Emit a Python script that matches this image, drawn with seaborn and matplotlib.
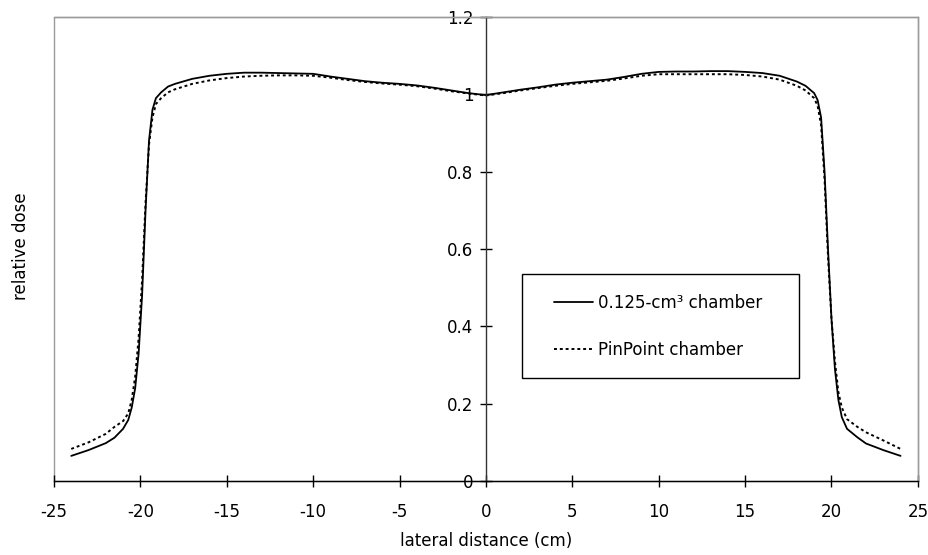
import numpy as np
import pandas as pd
import seaborn as sns
import matplotlib
matplotlib.use("Agg")
import matplotlib.pyplot as plt
from matplotlib.patches import Rectangle

sns.set_theme(style="white")
plt.rcParams['font.family'] = ['DejaVu Sans']
plt.rcParams['text.color'] = 'black'
plt.rcParams['axes.labelcolor'] = 'black'

# lateral distance (cm)
x_cm = [-24, -23, -22, -21.5, -21, -20.7, -20.5, -20.3, -20.1, -19.9, -19.7, -19.5, -19.3, -19.1, -18.8, -18.4, -18,
        -17, -16, -15, -14, -13, -12, -11, -10, -9, -8, -7, -6, -5, -4, -3, -2, -1,
        0,
        1, 2, 3, 4, 5, 6, 7, 8, 9, 10, 11, 12, 13, 14, 15, 16, 17, 18,
        18.5, 19, 19.2, 19.4, 19.6, 19.8, 20.0, 20.2, 20.4, 20.6, 20.9, 21.5, 22, 23, 24]

# 0.125-cm3 chamber
dose_chamber = [0.065, 0.080, 0.098, 0.112, 0.135, 0.158, 0.19, 0.24, 0.33, 0.48, 0.70, 0.88, 0.96, 0.99, 1.005, 1.020, 1.027,
                1.040, 1.048, 1.053, 1.056, 1.056, 1.055, 1.054, 1.053, 1.046, 1.040, 1.034, 1.030, 1.027, 1.023, 1.017, 1.010, 1.003,
                0.998,
                1.005, 1.012, 1.018, 1.025, 1.030, 1.034, 1.038, 1.045, 1.053, 1.058, 1.059, 1.059, 1.060, 1.060, 1.058, 1.055, 1.048, 1.033,
                1.022, 1.003, 0.985, 0.94, 0.80, 0.60, 0.42, 0.29, 0.21, 0.165, 0.135, 0.113, 0.097, 0.080, 0.065]

# PinPoint chamber
dose_pinpoint = [0.083, 0.100, 0.122, 0.140, 0.155, 0.175, 0.21, 0.27, 0.37, 0.52, 0.72, 0.87, 0.94, 0.975, 0.99, 1.005, 1.013,
                 1.027, 1.036, 1.042, 1.046, 1.048, 1.049, 1.049, 1.048, 1.043, 1.037, 1.032, 1.028, 1.025, 1.021, 1.015, 1.008, 1.002,
                 0.997,
                 1.003, 1.010, 1.016, 1.022, 1.027, 1.031, 1.035, 1.041, 1.048, 1.052, 1.052, 1.052, 1.052, 1.052, 1.050, 1.046, 1.038, 1.022,
                 1.010, 0.99, 0.97, 0.92, 0.78, 0.58, 0.42, 0.31, 0.23, 0.19, 0.16, 0.14, 0.126, 0.105, 0.083]

labels = ["0.125-cm³ chamber", "PinPoint chamber"]
x_ticks = [-25, -20, -15, -10, -5, 0, 5, 10, 15, 20, 25]
y_ticks = [0, 0.2, 0.4, 0.6, 0.8, 1, 1.2]
y_tick_labels = ["0", "0.2", "0.4", "0.6", "0.8", "1", "1.2"]

fig = plt.figure(figsize=(9.29, 5.55), dpi=100)
ax = fig.add_axes([0.0581, 0.1333, 0.9299, 0.8361])

sns.lineplot(x=x_cm, y=dose_chamber, ax=ax, color="black", linewidth=1.3,
             estimator=None, sort=False, label=labels[0])
sns.lineplot(x=x_cm, y=dose_pinpoint, ax=ax, color="black", linewidth=1.4,
             linestyle=(0, (1.5, 1.5)), estimator=None, sort=False, label=labels[1])

ax.set_xlim(-25, 25)
ax.set_ylim(0, 1.2)
ax.set_xticks(x_ticks)
ax.set_xticklabels([str(t) for t in x_ticks])
ax.set_yticks(y_ticks)
ax.set_yticklabels(y_tick_labels)

# frame
frame_col = "#9a9a9a"
for s in ["top", "right"]:
    ax.spines[s].set_visible(True)
    ax.spines[s].set_color(frame_col)
    ax.spines[s].set_linewidth(1.0)
ax.spines["bottom"].set_color("black")
ax.spines["bottom"].set_linewidth(1.0)
ax.spines["left"].set_position(("data", 0))
ax.spines["left"].set_color("#333333")
ax.spines["left"].set_linewidth(1.0)
ax.patch.set_edgecolor(frame_col)
ax.patch.set_linewidth(1.0)
ax.patch.set_facecolor("white")

ax.tick_params(axis="both", which="major", direction="inout", length=8, width=1.0,
               colors="black", labelsize=12, labelcolor="black")
ax.tick_params(axis="x", pad=12, bottom=True)
ax.tick_params(axis="y", pad=5, left=True)

ax.set_xlabel("lateral distance (cm)", fontsize=12, labelpad=8, color="black")
ax.set_ylabel("")
fig.text(0.0226, 0.556, "relative dose", rotation=90, fontsize=12, ha="center", va="center",
         color="black")

# legend: content without frame, frame as a box in axes coordinates
leg = ax.legend(loc="upper left", bbox_to_anchor=(0.5787, 0.403), frameon=False,
                fontsize=12, handlelength=2.35, handletextpad=0.3, labelspacing=1.72,
                borderpad=0, borderaxespad=0, labelcolor="black")
ax.add_patch(Rectangle((0.5417, 0.222), 0.3206, 0.224, transform=ax.transAxes,
                       fill=False, edgecolor="black", linewidth=1.0, zorder=5))

fig.savefig("out.png", dpi=100, facecolor="white")
